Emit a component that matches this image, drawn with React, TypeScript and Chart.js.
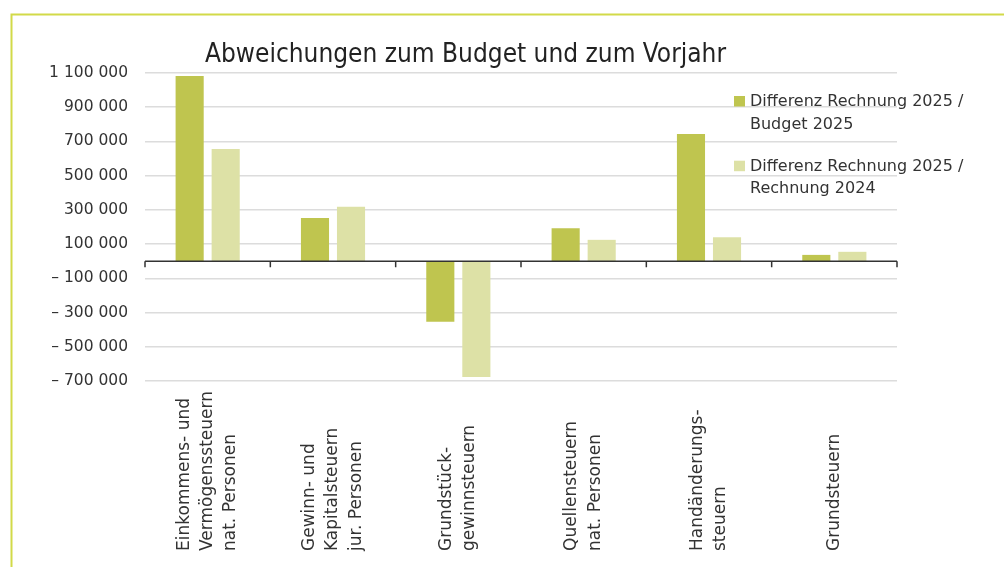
import React, { useEffect, useRef } from "react";
import { Chart, registerables } from "chart.js";

Chart.register(...registerables);

// ---- data ----
const categories: string[][] = [
  ["Einkommens- und", "Vermögenssteuern", "nat. Personen"],
  ["Gewinn- und", "Kapitalsteuern", "jur. Personen"],
  ["Grundstück-", "gewinnsteuern"],
  ["Quellensteuern", "nat. Personen"],
  ["Handänderungs-", "steuern"],
  ["Grundsteuern"],
];
const seriesLabels: string[][] = [
  ["Differenz Rechnung 2025 /", "Budget 2025"],
  ["Differenz Rechnung 2025 /", "Rechnung 2024"],
];
const diffBudget2025 = [1082000, 253000, -354000, 193000, 744000, 37000];
const diffRechnung2024 = [656000, 318000, -677000, 125000, 140000, 55000];
const yMin = -700000;
const yMax = 1100000;
const yStep = 200000;
const titleText = "Abweichungen zum Budget und zum Vorjahr";

// ---- styles ----
const colors = ["#bfc54f", "#dde1a6"];
const frameColor = "#d2da48";
const textColor = "#333333";
const FONT = "'DejaVu Sans', sans-serif";

function fmt(v: number): string {
  const s = String(Math.abs(v)).replace(/\B(?=(\d{3})+(?!\d))/g, " ");
  return v < 0 ? "\u2013 " + s : s;
}

const decorPlugin = {
  id: "decor",
  beforeDraw(chart: any) {
    const ctx = chart.ctx;
    ctx.save();
    ctx.strokeStyle = frameColor;
    ctx.lineWidth = 2;
    ctx.beginPath();
    ctx.moveTo(11.5, chart.height);
    ctx.lineTo(11.5, 14.5);
    ctx.lineTo(chart.width, 14.5);
    ctx.stroke();
    ctx.restore();
  },
  afterDatasetsDraw(chart: any) {
    const ctx = chart.ctx;
    const xs = chart.scales.x;
    const ys = chart.scales.y;
    const y0 = ys.getPixelForValue(0);
    const area = chart.chartArea;
    ctx.save();
    ctx.strokeStyle = "#333333";
    ctx.lineWidth = 1.5;
    ctx.beginPath();
    ctx.moveTo(area.left, y0);
    ctx.lineTo(area.right, y0);
    const n = chart.data.labels.length;
    for (let i = 0; i <= n; i++) {
      const x = xs.getPixelForValue(i - 0.5);
      ctx.moveTo(x, y0);
      ctx.lineTo(x, y0 + 6);
    }
    ctx.stroke();
    ctx.restore();
  },
  afterDraw(chart: any) {
    const ctx = chart.ctx;
    const xs = chart.scales.x;
    ctx.save();
    // title
    ctx.fillStyle = "#222222";
    ctx.font = "26px 'DejaVu Sans Condensed', 'DejaVu Sans', sans-serif";
    ctx.textAlign = "left";
    ctx.textBaseline = "alphabetic";
    ctx.fillText(titleText, 205, 61.5);

    // legend
    ctx.font = "16px " + FONT;
    ctx.fillStyle = textColor;
    const legendTop = [106, 170.7];
    chart.data.datasets.forEach((ds: any, i: number) => {
      const base = legendTop[i];
      ctx.fillStyle = ds.backgroundColor;
      ctx.fillRect(734, base - 10, 11, 10.5);
      ctx.fillStyle = textColor;
      const lines: string[] = ds.legendLines;
      lines.forEach((line, j) => {
        ctx.fillText(line, 750, base + j * 22.5);
      });
    });

    // x labels (rotated)
    ctx.font = "17px " + FONT;
    ctx.fillStyle = textColor;
    ctx.textAlign = "left";
    ctx.textBaseline = "middle";
    const labels: string[][] = chart.data.labels;
    labels.forEach((lines, i) => {
      const cx = xs.getPixelForValue(i);
      ctx.save();
      ctx.translate(cx, 551);
      ctx.rotate(-Math.PI / 2);
      const n = lines.length;
      lines.forEach((line, j) => {
        ctx.fillText(line, 0, (j - (n - 1) / 2) * 23.3);
      });
      ctx.restore();
    });
    ctx.restore();
  },
};

export default function App() {
  const ref = useRef<HTMLCanvasElement | null>(null);

  useEffect(() => {
    if (!ref.current) return;
    const chart = new Chart(ref.current, {
      type: "bar",
      data: {
        labels: categories as any,
        datasets: [
          {
            label: seriesLabels[0].join(" "),
            legendLines: seriesLabels[0],
            data: diffBudget2025,
            backgroundColor: colors[0],
            borderWidth: 0,
            categoryPercentage: 0.575,
            barPercentage: 0.78,
          } as any,
          {
            label: seriesLabels[1].join(" "),
            legendLines: seriesLabels[1],
            data: diffRechnung2024,
            backgroundColor: colors[1],
            borderWidth: 0,
            categoryPercentage: 0.575,
            barPercentage: 0.78,
          } as any,
        ],
      },
      options: {
        responsive: false,
        animation: false,
        devicePixelRatio: 1,
        layout: { padding: { top: 73, right: 107, left: 0, bottom: 0 } },
        plugins: {
          legend: { display: false },
          title: { display: false },
          tooltip: { enabled: false },
        },
        scales: {
          x: {
            grid: { display: false },
            border: { display: false },
            ticks: { display: false },
            afterFit: (scale: any) => {
              scale.height = 186;
            },
          },
          y: {
            min: yMin,
            max: yMax,
            grid: { color: "#dcdcdc", lineWidth: 1.5, drawTicks: false },
            border: { display: false },
            ticks: {
              stepSize: yStep,
              padding: 17,
              color: textColor,
              font: { family: FONT, size: 15.5 },
              callback: (v: any) => fmt(Number(v)),
            },
            afterFit: (scale: any) => {
              scale.width = 145;
            },
          },
        },
      } as any,
      plugins: [decorPlugin],
    });
    return () => chart.destroy();
  }, []);

  return (
    <div style={{ position: "absolute", left: 0, top: 0, width: 1004, height: 567, background: "#ffffff" }}>
      <canvas ref={ref} width={1004} height={567} style={{ display: "block" }} />
    </div>
  );
}
